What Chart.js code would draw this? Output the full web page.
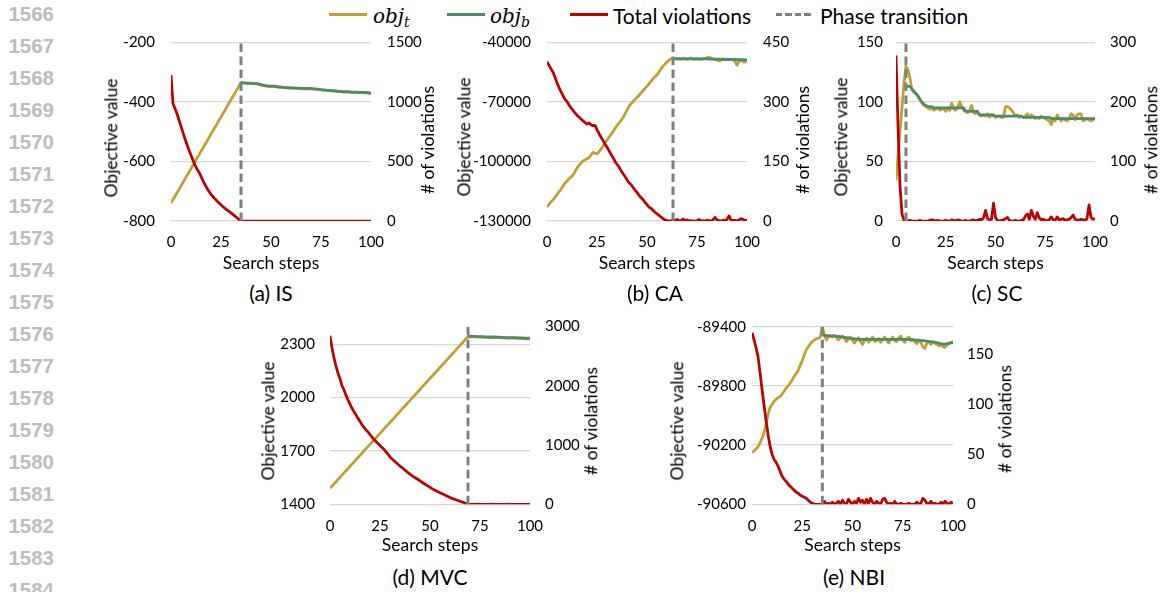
<!DOCTYPE html>
<html><head><meta charset="utf-8">
<script src="https://cdn.jsdelivr.net/npm/chart.js@4.4.1/dist/chart.umd.min.js"></script>
<style>
html,body{margin:0;padding:0;background:#fff;}
body{width:1162px;height:592px;position:relative;overflow:hidden;font-family:Lato,sans-serif;color:#000;}
canvas{position:absolute;}
.ln{position:absolute;left:0;width:54px;text-align:right;font:bold 20.5px "Liberation Sans",Arial,sans-serif;color:#bdbdbd;height:24px;line-height:24px;}
.vt{position:absolute;white-space:nowrap;font-size:17.5px;transform:translate(-50%,-50%) rotate(-90deg);line-height:1;}
.sub{position:absolute;font-size:21px;transform:translate(-50%,-50%);white-space:nowrap;line-height:1;}
.leg{position:absolute;font-size:21px;line-height:1;white-space:nowrap;transform:translateY(-50%);top:14.5px;}
.sw{position:absolute;height:3px;top:13px;}
.m{font-family:"DejaVu Serif",serif;font-style:italic;font-size:20px;}
.m sub{font-size:14px;vertical-align:-4px;line-height:0;}
</style></head><body>
<div class="sw" style="left:329px;width:38px;background:#BDA031"></div>
<div class="leg" style="left:373px"><span class="m">obj<sub>t</sub></span></div>
<div class="sw" style="left:447px;width:38px;background:#4E8A66"></div>
<div class="leg" style="left:490px"><span class="m">obj<sub>b</sub></span></div>
<div class="sw" style="left:570px;width:38px;background:#C00000"></div>
<div class="leg" style="left:613px">Total violations</div>
<div class="sw" style="left:776px;width:36px;background:repeating-linear-gradient(to right,#7F7F7F 0 6.5px,transparent 6.5px 9.5px)"></div>
<div class="leg" style="left:820px">Phase transition</div>
<script>
// ---------------- DATA ----------------
const stepTicks = [0, 25, 50, 75, 100];

// (a) IS
const isPhase = 35;
const isYTicks = [-800, -600, -400, -200];
const isVTicks = [0, 500, 1000, 1500];
const isObjT = [-740,-728,-717,-705,-694,-682,-671,-659,-647,-636,-624,-613,-601,-589,-578,-566,-555,-543,-532,-520,-508,-497,-485,-474,-462,-451,-439,-428,-416,-404,-393,-381,-370,-358,-347,-335,
-337,-337,-338,-338,-339,-339,-340,-340,-342,-344,-345,-346,-347,-348,-348,-348,-349,-350,-351,-351,-352,-353,-353,-354,-354,-354,-355,-355,-355,-356,-356,-356,-356,-356,-356,-357,-357,-358,-359,-360,-361,-361,-362,-362,-363,-363,-364,-365,-366,-366,-367,-367,-367,-367,-368,-368,-368,-368,-369,-369,-369,-370,-370,-371,-372];
const isObjB = [-335,-336,-336,-337,-337,-338,-338,-339,-339,-340,-342,-344,-345,-346,-347,-347,-347,-348,-349,-350,-350,-351,-352,-352,-353,-353,-353,-354,-354,-354,-355,-355,-355,-355,-355,-355,-356,-356,-357,-358,-359,-360,-360,-361,-361,-362,-362,-363,-364,-365,-365,-366,-366,-366,-366,-367,-367,-367,-367,-368,-368,-368,-369,-369,-370,-371];
const isViol = [1225,985,945,900,848,795,742,690,641,595,551,509,469,435,410,375,338,304,274,248,224,204,186,168,152,136,120,106,93,81,68,55,41,27,13,0,
0,0,0,0,0,0,0,0,0,0,0,0,0,0,0,0,0,0,0,0,0,0,0,0,0,0,0,0,0,0,0,0,0,0,0,0,0,0,0,0,0,0,0,0,0,0,0,0,0,0,0,0,0,0,0,0,0,0,0,0,0,0,0,0,0];

// (b) CA
const caPhase = 63;
const caYTicks = [-130000, -100000, -70000, -40000];
const caVTicks = [0, 150, 300, 450];
const caObjT = [-122800,-121700,-120300,-119400,-118000,-116700,-115300,-114100,-112300,-110900,-110000,-108700,-107800,-106900,-105200,-103400,-101900,-100900,-99800,-99200,-98600,-98100,-96800,-95400,-95900,-96200,-95100,-93800,-92300,-90600,-89200,-87800,-86400,-85000,-83400,-81900,-80700,-79400,-77900,-76100,-74200,-72300,-71000,-69800,-68700,-67800,-66700,-65500,-64400,-63200,-62100,-61000,-59600,-58400,-57300,-56400,-55000,-53400,-52000,-51000,-49900,-48900,-48300,-48100,
-48100,-48300,-48200,-48500,-48000,-48300,-48600,-48200,-47900,-48300,-48500,-48200,-48400,-48600,-48300,-48100,-47800,-47500,-47900,-48400,-48700,-48900,-49400,-49000,-48600,-48700,-48500,-48800,-48600,-48900,-49600,-51600,-49300,-49100,-49700,-50000,-49200];
const caObjB = [-48200,-48300,-48300,-48300,-48300,-48300,-48300,-48300,-48400,-48400,-48400,-48400,-48400,-48400,-48400,-48400,-48400,-48400,-48500,-48500,-48500,-48500,-48500,-48500,-48500,-48500,-48600,-48600,-48600,-48600,-48600,-48600,-48700,-48700,-48700,-48700,-48800,-48800];
const caViol = [401,392,383,375,362,348,336,326,316,306,301,292,285,279,272,266,262,257,252,248,244,247,242,240,241,230,220,211,203,194,186,177,168,160,150,143,136,127,119,112,104,96,92,85,78,72,65,59,54,47,41,35,32,27,22,18,14,10,6,3,1,0,1,0,
2,4,1,0,5,1,3,0,1,0,0,1,4,0,1,0,2,1,0,3,9,3,1,0,2,1,4,13,2,1,2,0,3,6,4,2,1];

// (c) SC
const scPhase = 5;
const scYTicks = [0, 50, 100, 150];
const scVTicks = [0, 100, 200, 300];
const scObjT = [34,55,75,95,115,130,127,120,110,108,107,105,102,99,97,96,95,94,95,93,94,95,93,94,94,92,94,93,99,94,93,95,100,96,93,92,91,93,97,91,90,91,89,88,89,88,90,87,89,88,87,88,88,87,87,96,96,95,93,91,88,89,87,88,87,88,90,87,89,88,86,87,86,88,87,86,85,84,81,86,84,89,86,84,86,85,84,86,90,89,85,89,90,90,84,85,86,85,84,85,86];
const scObjB = [113,113,113,111,109,107,105,102,100,98,97,96,96,96,95,95,95,95,95,95,95,95,95,95,95,95,95,95,95,95,92,92,92,92,92,92,92,89,89,89,89,89,89,89,89,88,88,88,88,88,88,88,88,88,88,88,88,88,88,87,87,87,87,87,87,87,87,87,87,87,87,87,87,86,86,86,86,86,86,86,86,86,86,86,86,86,86,86,86,86,86,86,86,86,86,86];
const scViol = [278,160,60,12,2,0,0,1,0,0,0,0,1,0,0,0,0,1,2,1,0,1,0,0,0,1,0,0,2,1,0,2,1,0,0,1,0,0,1,2,0,1,3,2,5,18,4,2,3,30,6,1,0,1,2,4,6,1,0,0,1,0,0,1,2,8,12,3,18,8,3,14,5,2,3,1,0,2,7,2,1,7,2,3,4,1,2,3,6,10,3,2,1,3,2,1,4,27,6,3,4];

// (d) MVC
const mvcPhase = 69;
const mvcYTicks = [1400, 1700, 2000, 2300];
const mvcVTicks = [0, 1000, 2000, 3000];
const mvcObjT = [1490,1502,1515,1527,1539,1552,1564,1577,1589,1601,1614,1626,1638,1651,1663,1675,1688,1700,1713,1725,1737,1750,1762,1774,1787,1799,1811,1824,1836,1848,1861,1873,1885,1898,1910,1923,1935,1947,1960,1972,1984,1997,2009,2021,2034,2046,2059,2071,2083,2096,2108,2120,2133,2145,2157,2170,2182,2194,2207,2219,2232,2244,2256,2269,2281,2293,2306,2318,2331,2343,
2342,2342,2341,2341,2340,2340,2340,2339,2339,2339,2338,2338,2338,2337,2337,2337,2336,2336,2335,2335,2335,2334,2334,2333,2333,2333,2332,2332,2331,2331,2330];
const mvcObjB = [2345,2345,2344,2344,2344,2343,2343,2343,2342,2342,2342,2341,2341,2341,2340,2340,2340,2339,2339,2338,2338,2338,2337,2337,2337,2336,2336,2336,2335,2335,2334,2334];
const mvcViol = [2843,2640,2470,2330,2210,2120,2000,1930,1840,1760,1690,1620,1560,1510,1450,1400,1340,1300,1255,1220,1175,1135,1095,1060,1025,990,960,925,885,845,800,765,735,705,675,645,620,590,562,535,508,485,460,440,418,395,372,350,330,308,288,265,245,228,210,194,180,165,148,132,115,100,88,76,64,52,40,28,14,0,
0,0,0,0,2,0,0,0,0,0,0,3,0,0,0,0,0,0,0,2,0,0,0,0,0,0,0,0,0,0,0];

// (e) NBI
const nbiPhase = 35;
const nbiYTicks = [-90600, -90200, -89800, -89400];
const nbiVTicks = [0, 50, 100, 150];
const nbiObjT = [-90250,-90240,-90225,-90210,-90185,-90155,-90115,-90060,-89990,-89945,-89925,-89905,-89890,-89878,-89872,-89855,-89835,-89815,-89800,-89780,-89760,-89735,-89715,-89695,-89660,-89630,-89590,-89555,-89535,-89515,-89500,-89490,-89482,-89478,-89470,-89395,
-89455,-89490,-89470,-89462,-89470,-89458,-89472,-89490,-89475,-89462,-89480,-89500,-89485,-89470,-89495,-89510,-89488,-89475,-89500,-89520,-89492,-89478,-89505,-89490,-89470,-89500,-89495,-89480,-89505,-89488,-89470,-89490,-89510,-89485,-89470,-89495,-89500,-89478,-89462,-89490,-89505,-89480,-89470,-89495,-89488,-89500,-89515,-89495,-89505,-89535,-89548,-89510,-89500,-89520,-89505,-89512,-89520,-89530,-89520,-89535,-89540,-89525,-89515,-89505,-89500];
const nbiObjB = [-89455,-89458,-89460,-89460,-89462,-89462,-89464,-89465,-89466,-89468,-89470,-89472,-89474,-89476,-89478,-89480,-89482,-89484,-89485,-89485,-89485,-89485,-89485,-89485,-89485,-89485,-89485,-89485,-89485,-89485,-89485,-89485,-89485,-89485,-89485,-89485,-89485,-89485,-89485,-89485,-89485,-89485,-89485,-89485,-89485,-89488,-89490,-89490,-89490,-89492,-89494,-89496,-89498,-89500,-89500,-89502,-89505,-89508,-89512,-89515,-89517,-89517,-89515,-89512,-89510,-89510];
const nbiViol = [172,165,157,148,132,115,99,84,70,58,50,45,42,38,33,28,25,23,20,18,16,14,12,11,9,8,7,6,4,2,1,0,0,0,0,0,
3,0,1,0,2,0,1,3,0,4,1,0,5,2,0,3,1,6,2,4,0,5,1,6,2,0,3,1,0,5,6,2,0,1,0,3,0,0,1,0,0,0,1,0,0,0,2,0,1,6,4,1,0,3,0,1,0,0,2,0,3,1,0,2,1];

// ---------------- STYLE / LAYOUT ----------------
const GOLD = '#BDA031', GREEN = '#4E8A66', RED = '#C00000', GREY = '#7F7F7F', GRID = '#D6D6D6';
const FONT = 'Lato, sans-serif';

const panels = [
  {name:'(a) IS', sub:[271,292], yt:[[111,138],[428,140]], box:[95,30,345,246], padTop:12.3, xH:55, lW:76, rW:69, lPad:16, rPad:16, xTickPad:12, xTitlePad:2.5,
   yMin:-800, yMax:-200, y1Max:1500, yTicks:isYTicks, vTicks:isVTicks, phase:isPhase, objT:isObjT, objB:isObjB, viol:isViol},
  {name:'(b) CA', sub:[655,292], yt:[[464,137],[803,140]], box:[450,30,365,246], padTop:12.3, xH:55, lW:97, rW:68, lPad:16, rPad:16, xTickPad:12, xTitlePad:2.5,
   yMin:-130000, yMax:-40000, y1Max:450, yTicks:caYTicks, vTicks:caVTicks, phase:caPhase, objT:caObjT, objB:caObjB, viol:caViol},
  {name:'(c) SC', sub:[997,292], yt:[[841,137],[1151,140]], box:[825,30,337,246], padTop:12.3, xH:55, lW:71, rW:67, lPad:13, rPad:15, xTickPad:12, xTitlePad:2.5,
   yMin:0, yMax:150, y1Max:300, yTicks:scYTicks, vTicks:scVTicks, phase:scPhase, objT:scObjT, objB:scObjB, viol:scViol},
  {name:'(d) MVC', sub:[430,576], yt:[[268,421],[591,421]], box:[252,314,351,245], padTop:12.5, xH:54.7, lW:78, rW:73, lPad:15, rPad:15, xTickPad:12.7, xTitlePad:3.5,
   yMin:1400, yMax:2400, y1Max:3000, yTicks:mvcYTicks, vTicks:mvcVTicks, phase:mvcPhase, objT:mvcObjT, objB:mvcObjB, viol:mvcViol},
  {name:'(e) NBI', sub:[854,576], yt:[[677,421],[1005,419]], box:[661,314,356,245], padTop:12.7, xH:54.7, lW:91, rW:64, lPad:6, rPad:14, xTickPad:12.7, xTitlePad:3.5,
   yMin:-90600, yMax:-89400, y1Max:178, yTicks:nbiYTicks, vTicks:nbiVTicks, phase:nbiPhase, objT:nbiObjT, objB:nbiObjB, viol:nbiViol}
];

function addDiv(cls, text, x, y){
  const d = document.createElement('div');
  d.className = cls; d.textContent = text;
  d.style.left = x + 'px'; d.style.top = y + 'px';
  document.body.appendChild(d);
}
// line numbers
for (let k = 0; k <= 18; k++) addDiv('ln', String(1566 + k), 0, 14 + 32 * k - 12);

function pts(vals, start){ return vals.map((v, i) => ({x: start + i, y: v})); }
function fixTicks(list){ return s => { s.ticks = list.map(v => ({value: v})); }; }
function noPad(s){ s.paddingTop = 0; s.paddingBottom = 0; s.paddingLeft = 0; s.paddingRight = 0; }

function makePanel(p){
  const cv = document.createElement('canvas');
  cv.width = p.box[2]; cv.height = p.box[3];
  cv.style.left = p.box[0] + 'px'; cv.style.top = p.box[1] + 'px';
  document.body.appendChild(cv);
  addDiv('sub', p.name, p.sub[0], p.sub[1]);
  addDiv('vt', 'Objective value', p.yt[0][0], p.yt[0][1]);
  addDiv('vt', '# of violations', p.yt[1][0], p.yt[1][1]);
  const tickFont = {family: FONT, size: 15};
  new Chart(cv, {
    type: 'line',
    data: {datasets: [
      {label: 'Phase transition', data: [{x: p.phase, y: p.yMin}, {x: p.phase, y: p.yMax}], borderColor: GREY, borderWidth: 3, borderDash: [8.5, 4.5], yAxisID: 'y', order: 0},
      {label: 'Total violations', data: pts(p.viol, 0), borderColor: RED, yAxisID: 'y1', order: 1},
      {label: 'obj_b', data: pts(p.objB, p.phase), borderColor: GREEN, yAxisID: 'y', order: 2},
      {label: 'obj_t', data: pts(p.objT, 0), borderColor: GOLD, yAxisID: 'y', order: 3}
    ]},
    options: {
      responsive: false, animation: false, devicePixelRatio: 1,
      layout: {padding: {top: p.padTop, left: 0, right: 0, bottom: 0}},
      plugins: {legend: {display: false}, tooltip: {enabled: false}},
      elements: {point: {radius: 0}, line: {borderWidth: 2.75, tension: 0, fill: false, borderCapStyle: 'butt', borderJoinStyle: 'round'}},
      scales: {
        x: {type: 'linear', min: 0, max: 100, grid: {display: false, drawTicks: false}, border: {display: false},
            afterBuildTicks: fixTicks(stepTicks),
            ticks: {padding: p.xTickPad, color: '#000', font: tickFont, maxRotation: 0, autoSkip: false},
            title: {display: true, text: 'Search steps', color: '#000', font: {family: FONT, size: 17.5}, padding: {top: 0, bottom: p.xTitlePad}},
            afterFit: s => { s.height = p.xH; noPad(s); }},
        y: {position: 'left', min: p.yMin, max: p.yMax, grid: {color: GRID, lineWidth: 1.3, drawTicks: false}, border: {display: false},
            afterBuildTicks: fixTicks(p.yTicks),
            ticks: {padding: p.lPad, color: '#000', font: tickFont, callback: v => String(v)},
            afterFit: s => { s.width = p.lW; noPad(s); }},
        y1: {position: 'right', min: 0, max: p.y1Max, grid: {display: false, drawTicks: false}, border: {display: false},
            afterBuildTicks: fixTicks(p.vTicks),
            ticks: {padding: p.rPad, color: '#000', font: tickFont, callback: v => String(v)},
            afterFit: s => { s.width = p.rW; noPad(s); }}
      }
    }
  });
}
panels.forEach(makePanel);
</script>
</body></html>
